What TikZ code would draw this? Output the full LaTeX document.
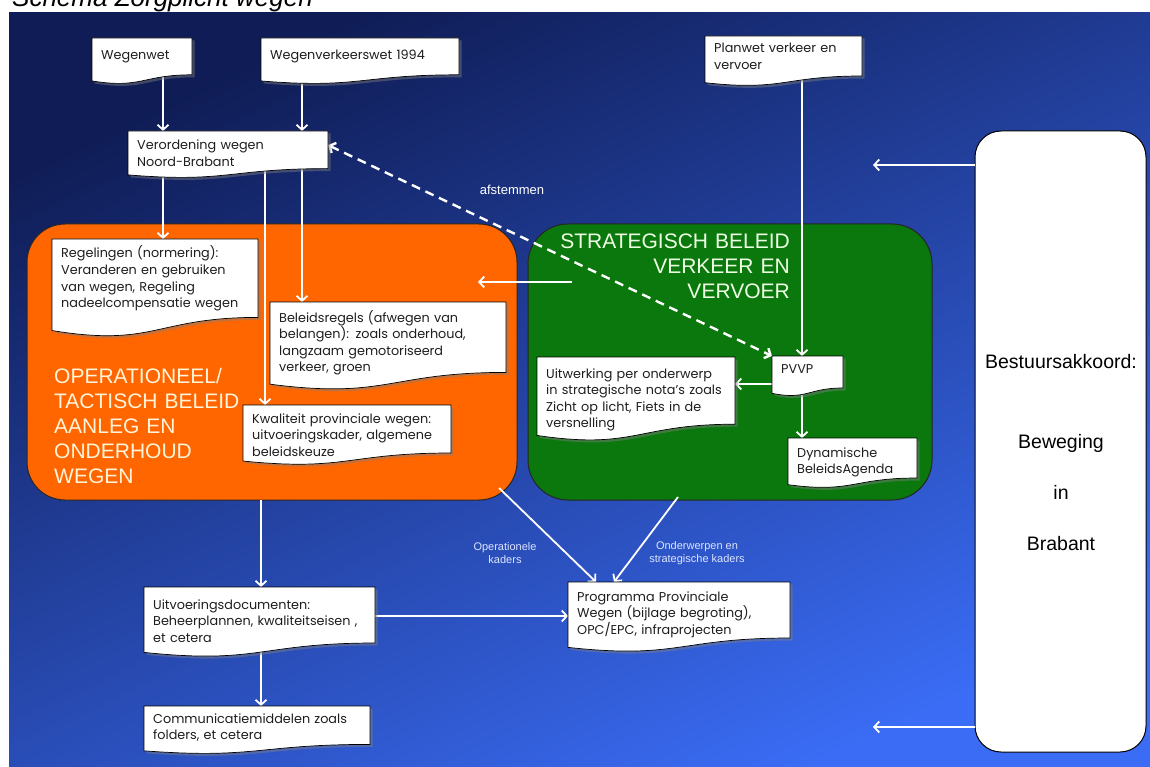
\documentclass[tikz,border=0pt]{standalone}
\usepackage{fontspec}
\setmainfont{Liberation Sans}
\newfontfamily\docfont{Poppins}
\usetikzlibrary{arrows.meta,shadows,calc}

\definecolor{bgA}{HTML}{0F1C55}
\definecolor{bgB}{HTML}{2448C4}
\definecolor{bgC}{HTML}{3A6CF5}
\definecolor{orangeP}{HTML}{FF6600}
\definecolor{greenP}{HTML}{0A780C}
\definecolor{creamT}{HTML}{FFF4D8}
\definecolor{mintT}{HTML}{EEFFE4}
\definecolor{labelT}{HTML}{DCE4FF}
\definecolor{boxT}{HTML}{1E1E1E}

\pgfdeclarelayer{bglayer}
\pgfdeclarelayer{panellayer}
\pgfdeclarelayer{linelayer}
\pgfsetlayers{bglayer,panellayer,linelayer,main}

\tikzset{
  docshape/.style={fill=white, draw=black, line width=0.7pt,
    drop shadow={shadow xshift=2.5pt, shadow yshift=-2.5pt, opacity=0.45}},
  docframe/.style={draw=none, fill=none, inner sep=0pt, outer sep=0pt},
  doctext/.style={inner sep=0pt, align=left, text width=300pt, text=boxT,
    font=\docfont\fontsize{12.8}{16.5}\selectfont},
  panel/.style={draw=black!85, line width=1pt, inner sep=0pt, outer sep=0pt, anchor=north west},
  arr/.style={draw=white, line width=1.8pt, -{Straight Barb[length=5pt, width=11pt]}},
  dasharr/.style={draw=white, line width=2.4pt, dash pattern=on 9pt off 6pt,
    {Straight Barb[length=5pt, width=11pt]}-{Straight Barb[length=5pt, width=11pt]}},
  kaderlabel/.style={align=center, inner sep=0pt, text=labelT, font=\fontsize{11}{13}\selectfont},
  bigtext/.style={inner sep=0pt, font=\fontsize{21}{25}\selectfont},
  besttext/.style={inner sep=0pt, anchor=base, font=\fontsize{19.5}{20}\selectfont, text=black}
}

% #1 name, #2 x, #3 y, #4 w, #5 h, #6 first baseline offset, #7 text
\newcommand\docbox[7]{%
  \draw[docshape] (#2,#3) -- (#2+#4,#3) -- (#2+#4,#3+0.80*#5)
    .. controls (#2+0.5*#4,#3+0.80*#5) and (#2+0.5*#4,#3+1.107*#5) .. (#2,#3+0.934*#5) -- cycle;
  \node[docframe, anchor=north west, minimum width=#4pt, minimum height=#5pt] (#1) at (#2,#3) {};
  \node[doctext, anchor=base west] (#1-t) at (#2+9,#3+#6) {#7};
}

\begin{document}
\begin{tikzpicture}[x=1pt,y=-1pt]
\useasboundingbox (0,0) rectangle (1150,767);
\clip (0,0) rectangle (1150,767);

% background
\begin{pgfonlayer}{bglayer}
\fill[white] (0,0) rectangle (1150,767);
\shade[top color=bgA, middle color=bgB, bottom color=bgC, shading angle=25] (9,13) rectangle (1150,767);
\end{pgfonlayer}

\node[anchor=base west, inner sep=0pt, font=\itshape\fontsize{26}{26}\selectfont] (title) at (12,7) {Schema Zorgplicht wegen};

% panels
\begin{pgfonlayer}{panellayer}
\node[panel, fill=orangeP, rounded corners=38pt, minimum width=490pt, minimum height=276pt] (orange) at (27,224) {};
\node[panel, fill=greenP, rounded corners=40pt, minimum width=404pt, minimum height=276pt] (green) at (528,224) {};
\node[panel, fill=white, draw=black, rounded corners=26pt, minimum width=171pt, minimum height=621pt] (best) at (975,131) {};
\node[bigtext, anchor=base west, text width=260pt, align=left, text=creamT] (optext) at (54,383)
  {OPERATIONEEL/\\TACTISCH BELEID\\AANLEG EN\\ONDERHOUD\\WEGEN};
\node[bigtext, anchor=base east, text width=260pt, align=right, text=mintT] (sttext) at (790,248)
  {STRATEGISCH BELEID\\VERKEER EN\\VERVOER};
\end{pgfonlayer}

\node[besttext] (best-t1) at (1061,368) {Bestuursakkoord:};
\node[besttext] (best-t2) at (1061,448) {Beweging};
\node[besttext] (best-t3) at (1061,499) {in};
\node[besttext] (best-t4) at (1061,550) {Brabant};

% document boxes
\docbox{wegenwet}{92}{38}{100}{46}{22}{Wegenwet}
\docbox{wvw}{261}{38}{198}{46}{22}{Wegenverkeerswet 1994}
\docbox{planwet}{705}{36}{157}{50}{17}{Planwet verkeer en\\vervoer}
\docbox{verord}{128}{131}{200}{47}{19}{Verordening wegen\\Noord-Brabant}
\docbox{regel}{52}{239}{206}{98}{19}{Regelingen (normering):\\Veranderen en gebruiken\\van wegen, Regeling\\nadeelcompensatie wegen}
\docbox{beleid}{270}{302}{236}{88}{20}{Beleidsregels (afwegen van\\belangen): zoals onderhoud,\\langzaam gemotoriseerd\\verkeer, groen}
\docbox{kwal}{243}{405}{208}{60}{18}{Kwaliteit provinciale wegen:\\uitvoeringskader, algemene\\beleidskeuze}
\docbox{uitwerk}{537}{357}{198}{84}{21}{Uitwerking per onderwerp\\in strategische nota’s zoals\\Zicht op licht, Fiets in de\\versnelling}
\docbox{pvvp}{772}{356}{71}{40}{17}{PVVP}
\docbox{dyn}{788}{438}{129}{50}{19}{Dynamische\\BeleidsAgenda}
\docbox{uitvoer}{144}{587}{231}{70}{22}{Uitvoeringsdocumenten:\\Beheerplannen, kwaliteitseisen ,\\et cetera}
\docbox{comm}{144}{706}{226}{48}{17}{Communicatiemiddelen zoals\\folders, et cetera}
\docbox{prog}{568}{582}{222}{70}{19}{Programma Provinciale\\Wegen (bijlage begroting),\\OPC/EPC, infraprojecten}

% labels
\node[inner sep=0pt, text=white, font=\fontsize{13}{13}\selectfont] (afst) at (512,190) {afstemmen};
\node[kaderlabel] (opk) at (505,553) {Operationele\\kaders};
\node[kaderlabel] (ondk) at (697,553) {Onderwerpen en\\strategische kaders};

% helper coordinates
\coordinate (x163) at (163,0);
\coordinate (x265) at (265,0);
\coordinate (x302) at (302,0);
\coordinate (x802) at (802,0);
\coordinate (x261) at (261,0);
\coordinate (x596) at (596,0);
\coordinate (x614) at (614,0);
\coordinate (y384) at (0,384);
\coordinate (y616) at (0,616);
\coordinate (y165) at (0,165);
\coordinate (y727) at (0,727);
\coordinate (gstart) at (572,282);
\coordinate (oend) at (478,282);
\coordinate (ocorner) at (499,488);
\coordinate (gcorner) at (678,497);
\coordinate (b1end) at (873,165);
\coordinate (b2end) at (873,727);

% connectors
\begin{pgfonlayer}{linelayer}
\draw[arr] (wegenwet.center -| x163) -- (verord.north -| x163);
\draw[arr] (wvw.center -| x302) -- (verord.north -| x302);
\draw[arr] (verord.center -| x163) -- (regel.north -| x163);
\draw[arr] (verord.center -| x265) -- (kwal.north -| x265);
\draw[arr] (verord.center -| x302) -- (beleid.north -| x302);
\draw[arr] (planwet.center -| x802) -- (pvvp.north -| x802);
\draw[dasharr] ($(verord.north east)!0.3!(verord.south east)$) -- (pvvp.north west);
\draw[arr] (gstart) -- (oend);
\draw[arr] (pvvp.center |- y384) -- (uitwerk.east |- y384);
\draw[arr] (pvvp.center -| x802) -- (dyn.north -| x802);
\draw[arr] (orange.south -| x261) -- (uitvoer.north -| x261);
\draw[arr] (ocorner) -- (prog.north -| x596);
\draw[arr] (gcorner) -- (prog.north -| x614);
\draw[arr] (uitvoer.center |- y616) -- (prog.west |- y616);
\draw[arr] (uitvoer.center -| x261) -- (comm.north -| x261);
\draw[arr] (best.west |- y165) -- (b1end);
\draw[arr] (best.west |- y727) -- (b2end);
\end{pgfonlayer}
\end{tikzpicture}
\end{document}
